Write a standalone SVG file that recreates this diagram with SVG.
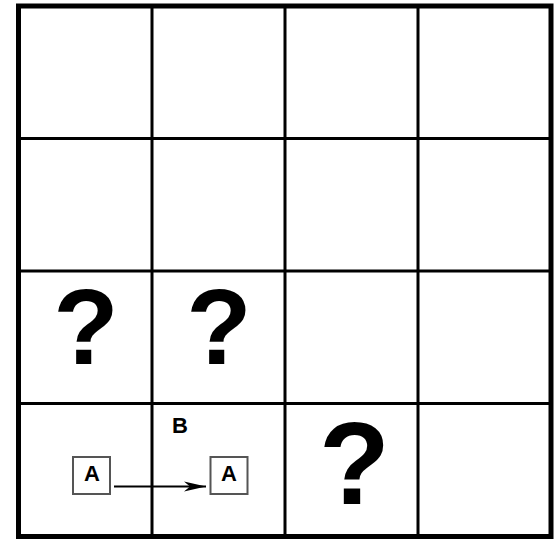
<svg xmlns="http://www.w3.org/2000/svg" width="556" height="539" viewBox="0 0 556 539">
<style>
.grid{fill:none;stroke:#000}
.q{font-family:"Liberation Sans",Arial,sans-serif;font-weight:bold;fill:#000;text-anchor:middle}
.lbl{font-family:"Liberation Sans",Arial,sans-serif;font-weight:bold;font-size:22px;fill:#000;text-anchor:middle}
.box{fill:#fff;stroke:#555;stroke-width:2}
</style>
<defs>
<marker id="arr" markerWidth="22" markerHeight="12" refX="22" refY="6" orient="auto" markerUnits="userSpaceOnUse">
<path d="M0,1 L22,6 L0,11 L6,6 z" fill="#000"/>
</marker>
</defs>
<rect width="556" height="539" fill="#fff"/>
<g id="grid">
<rect class="grid" x="18.5" y="6" width="532.5" height="530.5" stroke-width="5"/>
<g stroke="#000" stroke-width="3">
<line x1="152" y1="6" x2="152" y2="536.5"/>
<line x1="285" y1="6" x2="285" y2="536.5"/>
<line x1="418" y1="6" x2="418" y2="536.5"/>
<line x1="18.5" y1="138.5" x2="551" y2="138.5"/>
<line x1="18.5" y1="271" x2="551" y2="271"/>
<line x1="18.5" y1="403.5" x2="551" y2="403.5"/>
</g>
</g>
<g id="q1"><text class="q" x="86" y="364" font-size="107">?</text></g>
<g id="q2"><text class="q" x="219" y="364" font-size="107">?</text></g>
<g id="q3"><text class="q" x="354.5" y="504" font-size="116">?</text></g>
<g id="labelB"><text class="lbl" x="180" y="433">B</text></g>
<g id="nodeA1"><rect class="box" x="73" y="457" width="37" height="37"/><text class="lbl" x="92" y="481">A</text></g>
<g id="nodeA2"><rect class="box" x="210.5" y="457" width="37" height="37"/><text class="lbl" x="229" y="481">A</text></g>
<g id="connectors">
<line x1="114" y1="486.5" x2="206" y2="486.5" stroke="#000" stroke-width="2" marker-end="url(#arr)"/>
</g>
</svg>
